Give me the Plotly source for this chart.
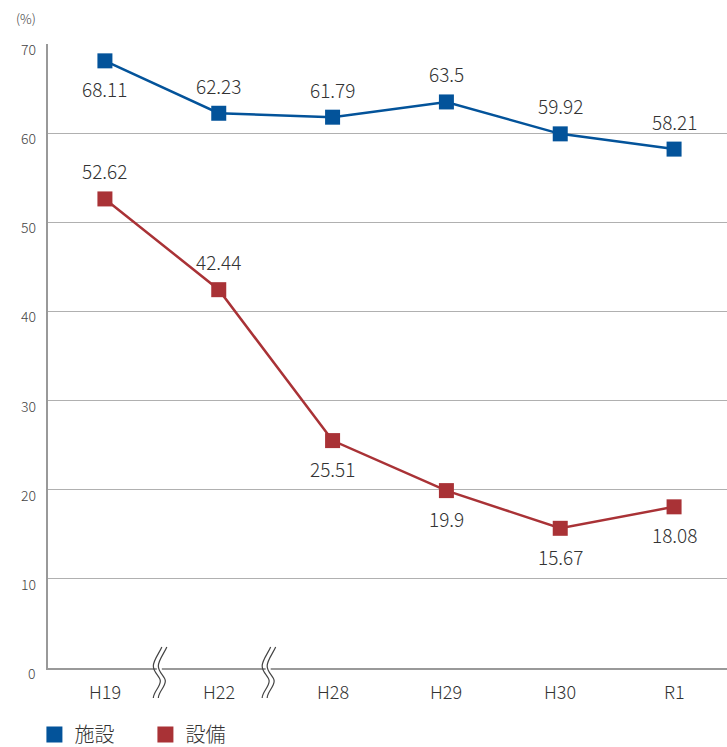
import plotly.graph_objects as go

# Survey years (Japanese era notation) and the two rate series (%)
years = ["H19", "H22", "H28", "H29", "H30", "R1"]
shisetsu = [68.11, 62.23, 61.79, 63.5, 59.92, 58.21]   # 施設
setsubi = [52.62, 42.44, 25.51, 19.9, 15.67, 18.08]    # 設備
y_ticks = [0, 10, 20, 30, 40, 50, 60, 70]

# Label placement: +1 above the marker, -1 below
shisetsu_side = [-1, 1, 1, 1, 1, 1]
setsubi_side = [1, 1, -1, -1, -1, -1]

BLUE = "#03539a"
RED = "#a93236"
TEXT = "#333333"
GRID = "#b0b0b0"
FONT = "Noto Sans CJK JP"
LIGHT = 300

xs = list(range(len(years)))

fig = go.Figure()

for name, vals, color in [("施設", shisetsu, BLUE), ("設備", setsubi, RED)]:
    fig.add_trace(go.Scatter(
        x=xs, y=vals, mode="lines+markers", name=name, showlegend=False,
        line=dict(color=color, width=2.5),
        marker=dict(symbol="square", size=15, color=color),
        cliponaxis=False,
    ))

# legend entries: plain squares
for name, color in [("施設", BLUE), ("設備", RED)]:
    fig.add_trace(go.Scatter(
        x=[None], y=[None], mode="markers", name=name,
        marker=dict(symbol="square", size=16, color=color),
    ))

annotations = []

# value labels
for vals, sides in [(shisetsu, shisetsu_side), (setsubi, setsubi_side)]:
    for x, v, s in zip(xs, vals, sides):
        annotations.append(dict(
            x=x, y=v, xref="x", yref="y", text=str(v), showarrow=False,
            yshift=28 * s, font=dict(size=19, color=TEXT, family=FONT, weight=LIGHT),
        ))

# y tick labels
for t in y_ticks:
    annotations.append(dict(
        x=0, y=t, xref="paper", yref="y", text=str(t), showarrow=False,
        xanchor="right", yanchor="middle", xshift=-10, yshift=-5,
        font=dict(size=14, color="#444444", family=FONT, weight=LIGHT),
    ))

# x tick labels
for x, lab in zip(xs, years):
    annotations.append(dict(
        x=x, y=0, xref="x", yref="paper", text=lab, showarrow=False,
        yanchor="middle", yshift=-23,
        font=dict(size=18, color=TEXT, family=FONT, weight=LIGHT),
    ))

# unit
annotations.append(dict(
    x=0, y=1, xref="paper", yref="paper", text="(%)", showarrow=False,
    xanchor="right", yanchor="bottom", xshift=-10, yshift=14,
    font=dict(size=13, color="#444444", family=FONT, weight=LIGHT),
))

# axis break marks between non-consecutive years
shapes = []
wave = ("M {a0},21 C {a1},15 {a2},8 {a2},2 C {a2},-5 {a3},-8 {a3},-13 "
        "C {a3},-19 {a2},-24 {a2},-30")
for bx, off in [(0.5, -2), (1.5, -7)]:
    # white band hiding the axis line
    shapes.append(dict(
        type="path", xref="x", yref="paper", xsizemode="pixel", ysizemode="pixel",
        xanchor=bx, yanchor=0,
        path=f"M {off-3},4 L {off+2},4 L {off+2},-4 L {off-3},-4 Z",
        fillcolor="white", line=dict(width=0),
    ))
    for d in (-2.5, 2.5):
        a = off + d
        shapes.append(dict(
            type="path", xref="x", yref="paper", xsizemode="pixel", ysizemode="pixel",
            xanchor=bx, yanchor=0,
            path=wave.format(a0=a + 4.5, a1=a + 2, a2=a - 4, a3=a + 3),
            line=dict(color="#444444", width=1.2),
        ))

fig.update_layout(
    width=727, height=747,
    margin=dict(l=48, r=0, t=44, b=79, autoexpand=False),
    paper_bgcolor="white", plot_bgcolor="white",
    font=dict(family=FONT, color=TEXT),
    xaxis=dict(
        range=[-0.5, 5.465], showgrid=False, zeroline=False,
        showticklabels=False, ticks="",
        showline=True, linecolor="#999999", linewidth=2,
    ),
    yaxis=dict(
        range=[0, 70], tickvals=y_ticks, showticklabels=False,
        showgrid=True, gridcolor=GRID, gridwidth=1, zeroline=False,
        showline=True, linecolor="#999999", linewidth=2, ticks="",
    ),
    legend=dict(
        orientation="h", x=-0.02, y=-0.0753, xanchor="left", yanchor="top",
        font=dict(size=20, color=TEXT, family=FONT, weight=LIGHT),
        entrywidth=66, entrywidthmode="pixels",
    ),
    annotations=annotations,
    shapes=shapes,
)

fig.write_html("out.html")
